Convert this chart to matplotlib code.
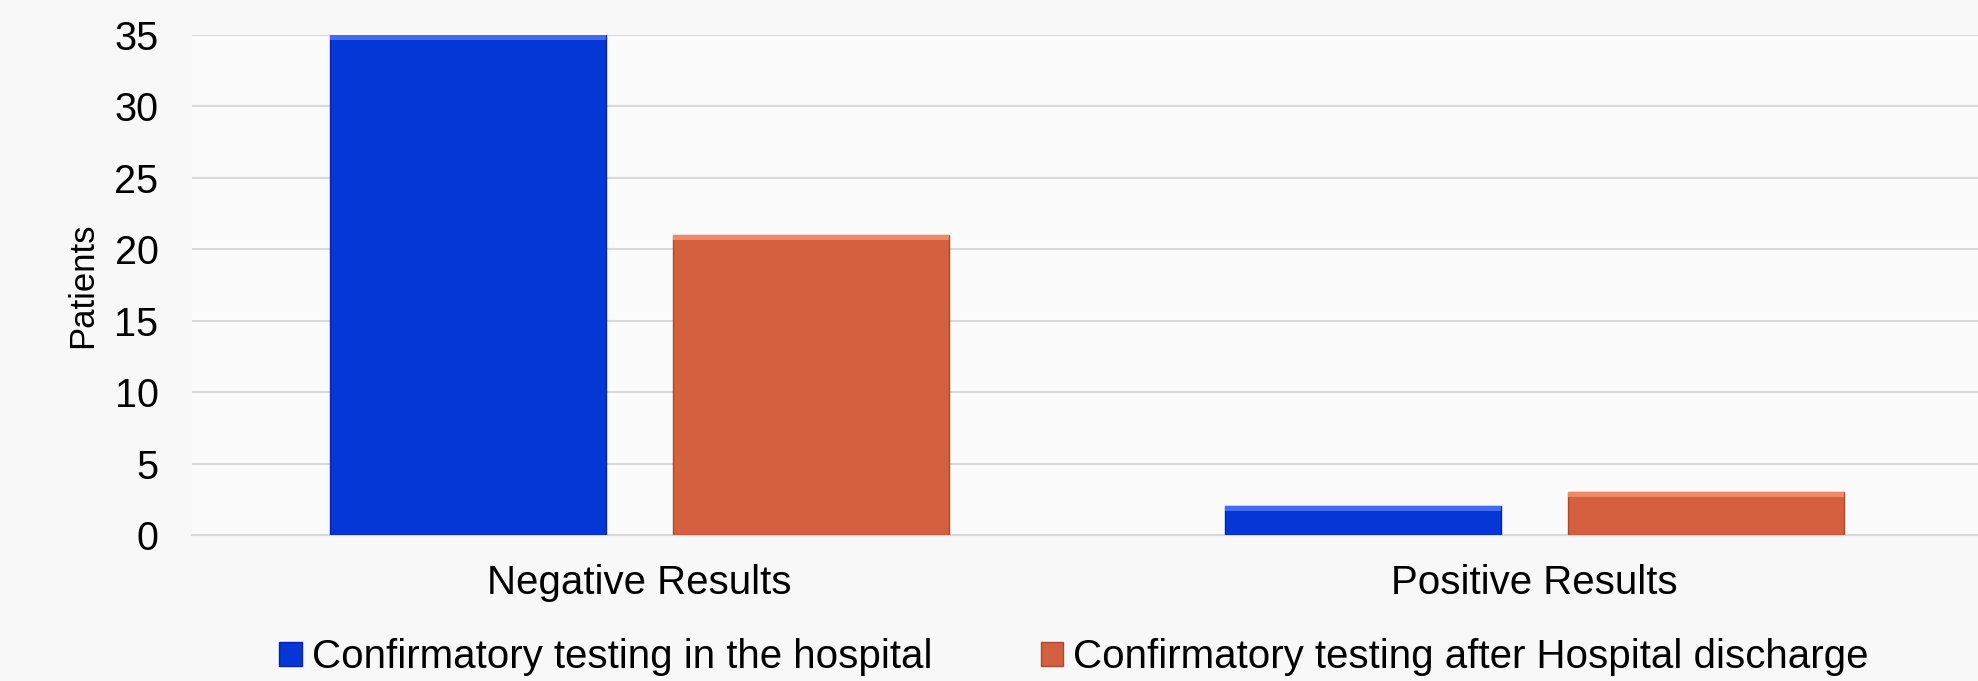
import numpy as np
import matplotlib.pyplot as plt
from matplotlib.patches import Patch

plt.rcParams['font.family'] = ['Liberation Sans', 'DejaVu Sans']

# dati
categories = ['Negative Results', 'Positive Results']
series_names = ['Confirmatory testing in the hospital',
                'Confirmatory testing after Hospital discharge']
hospital = [35, 2]
after_discharge = [21, 3]
yticks = [0, 5, 10, 15, 20, 25, 30, 35]

blue = '#0536d6'
orange = '#d46040'
blue_light = '#3f6cf0'
orange_light = '#ee8a68'

fig = plt.figure(figsize=(19.78, 6.81), dpi=100)
fig.patch.set_facecolor('#f8f8f8')
ax = fig.add_axes([0.097, 0.2144, 0.905, 0.7342])
ax.set_facecolor('#fbfbfb')

x = np.arange(len(categories))
w = 0.308
off = 0.1915

b1 = ax.bar(x - off, hospital, w, color=blue, edgecolor='#0326a8', linewidth=1, zorder=3)
b2 = ax.bar(x + off, after_discharge, w, color=orange, edgecolor='#a84a30', linewidth=1, zorder=3)

# bordo superiore piu chiaro (effetto smusso)
bev = 0.35
ax.bar(x - off, bev, w, bottom=np.array(hospital) - bev, color=blue_light, linewidth=0, zorder=4)
ax.bar(x + off, bev, w, bottom=np.array(after_discharge) - bev, color=orange_light, linewidth=0, zorder=4)

ax.set_xlim(-0.5, 1.5)
ax.set_ylim(0, 35)
ax.set_yticks(yticks)
ax.tick_params(axis='y', labelsize=28.5, length=0, pad=24)
ax.tick_params(axis='x', labelsize=29, length=0, pad=21)
ax.set_xticks(x)
ax.set_xticklabels(categories)
ax.set_ylabel('Patients', fontsize=25, labelpad=11)

ax.yaxis.grid(True, color='#d9d9d9', linewidth=1.5, zorder=0)
ax.set_axisbelow(True)
for s in ['top', 'right', 'left']:
    ax.spines[s].set_visible(False)
ax.spines['bottom'].set_color('#d9d9d9')
ax.spines['bottom'].set_linewidth(1.5)

handles = [Patch(facecolor=blue, edgecolor='#0326a8'),
           Patch(facecolor=orange, edgecolor='#a84a30')]
fig.legend(handles, series_names, loc='center', bbox_to_anchor=(0.543, 0.035),
           ncol=2, frameon=False, fontsize=29, handlelength=0.55, handleheight=0.55,
           handletextpad=0.25, columnspacing=2.7)

plt.savefig('out.png', dpi=100, facecolor=fig.get_facecolor())
